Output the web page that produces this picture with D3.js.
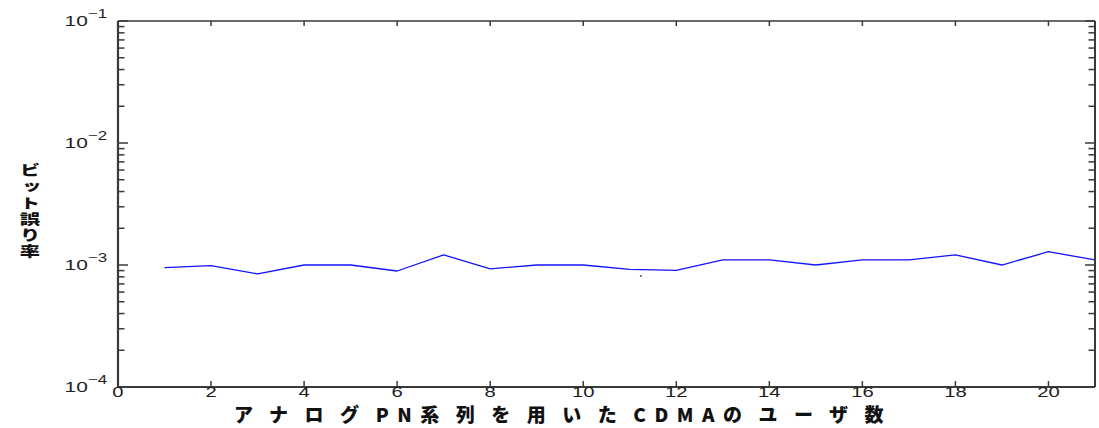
<!DOCTYPE html>
<html>
<head>
<meta charset="utf-8">
<script src="https://cdn.jsdelivr.net/npm/d3@7"></script>
<style>
  html, body { margin: 0; padding: 0; background: #fff; }
  svg { display: block; }
</style>
</head>
<body>
<svg id="chart" width="1099" height="428"></svg>
<script>
// Number of CDMA users using analogue PN sequences
const users = [1, 2, 3, 4, 5, 6, 7, 8, 9, 10, 11, 12, 13, 14, 15, 16, 17, 18, 19, 20, 21];
// Bit error rate for each user count
const bitErrorRate = [
  0.95e-3, 0.99e-3, 0.845e-3, 1.0e-3, 1.0e-3, 0.893e-3, 1.21e-3,
  0.93e-3, 1.0e-3, 1.0e-3, 0.92e-3, 0.905e-3, 1.1e-3, 1.1e-3,
  1.0e-3, 1.1e-3, 1.1e-3, 1.21e-3, 1.0e-3, 1.285e-3, 1.1e-3
];
// A single stray sample point
const strayX = [11.24];
const strayY = [0.818e-3];

const xTicks = [0, 2, 4, 6, 8, 10, 12, 14, 16, 18, 20];
const yDecades = [1e-4, 1e-3, 1e-2, 1e-1];
const yExponents = ["\u22124", "\u22123", "\u22122", "\u22121"];

// X axis title, split into CJK and Latin runs (they are spaced differently)
const xLabelRuns = ["アナログ", "PN", "系列を用いた", "CDMA", "のユーザ数"];
const yLabel = "ビット誤り率";

const svg = d3.select("#chart");
const plot = { left: 118, right: 1095, top: 21, bottom: 387 };

const x = d3.scaleLinear().domain([0, 21]).range([plot.left, plot.right]);
const y = d3.scaleLog().domain([1e-4, 1e-1]).range([plot.bottom, plot.top]);

const axisColor = "#3a3a3a";
const textColor = "#1e1e1e";
const hScale = 1.35;

// Data line
const line = d3.line().x((d, i) => x(users[i])).y(d => y(d));
svg.append("path")
  .datum(bitErrorRate)
  .attr("d", line)
  .attr("fill", "none")
  .attr("stroke", "#1414ff")
  .attr("stroke-width", 1.3)
  .attr("stroke-linejoin", "round");

// Stray point
svg.selectAll("rect.stray")
  .data(strayX)
  .enter().append("rect")
  .attr("class", "stray")
  .attr("x", (d) => x(d) - 1)
  .attr("y", (d, i) => y(strayY[i]) - 0.5)
  .attr("width", 2)
  .attr("height", 1.5)
  .attr("fill", "#555");

// Minor and major log ticks on left and right edges
const allLogTicks = y.ticks();
const g = svg.append("g");
allLogTicks.forEach(t => {
  const isMajor = yDecades.some(d => Math.abs(d - t) / d < 1e-9);
  const len = isMajor ? 10 : 6.5;
  const yy = y(t);
  g.append("line").attr("x1", plot.left).attr("x2", plot.left + len)
    .attr("y1", yy).attr("y2", yy)
    .attr("stroke", axisColor).attr("stroke-width", 1.5);
  g.append("line").attr("x1", plot.right).attr("x2", plot.right - len)
    .attr("y1", yy).attr("y2", yy)
    .attr("stroke", axisColor).attr("stroke-width", 1.5);
});

// X ticks on bottom and top edges
xTicks.forEach(t => {
  const xx = x(t);
  g.append("line").attr("x1", xx).attr("x2", xx)
    .attr("y1", plot.bottom).attr("y2", plot.bottom - 6)
    .attr("stroke", axisColor).attr("stroke-width", 1.5);
  g.append("line").attr("x1", xx).attr("x2", xx)
    .attr("y1", plot.top).attr("y2", plot.top + 5)
    .attr("stroke", axisColor).attr("stroke-width", 1.5);
});

// Box around the plot
svg.append("line").attr("x1", plot.left).attr("x2", plot.left)
  .attr("y1", plot.top).attr("y2", plot.bottom)
  .attr("stroke", axisColor).attr("stroke-width", 2.2);
svg.append("line").attr("x1", plot.left).attr("x2", plot.right)
  .attr("y1", plot.bottom).attr("y2", plot.bottom)
  .attr("stroke", axisColor).attr("stroke-width", 2.2);
svg.append("line").attr("x1", plot.left).attr("x2", plot.right)
  .attr("y1", plot.top).attr("y2", plot.top)
  .attr("stroke", axisColor).attr("stroke-width", 1.6);
svg.append("line").attr("x1", plot.right).attr("x2", plot.right)
  .attr("y1", plot.top).attr("y2", plot.bottom)
  .attr("stroke", axisColor).attr("stroke-width", 2);

// X tick labels
svg.selectAll("text.xtick")
  .data(xTicks)
  .enter().append("text")
  .attr("class", "xtick")
  .attr("transform", d => `translate(${x(d)},${plot.bottom + 10}) scale(${hScale},1)`)
  .attr("text-anchor", "middle")
  .attr("font-family", "Liberation Sans, Arial, sans-serif")
  .attr("font-size", 15)
  .attr("fill", textColor)
  .text(d => d);

// Y tick labels: 10 with superscript exponent
const ylab = svg.selectAll("text.ytick")
  .data(yDecades)
  .enter().append("text")
  .attr("class", "ytick")
  .attr("transform", d => `translate(107,${y(d) + 5}) scale(${hScale},1)`)
  .attr("text-anchor", "end")
  .attr("font-family", "Liberation Sans, Arial, sans-serif")
  .attr("fill", textColor);
ylab.append("tspan").attr("font-size", 15.5).text("10");
ylab.append("tspan").attr("font-size", 12.5).attr("dy", -8)
  .text((d, i) => yExponents[i]);

// Y axis title, written vertically top to bottom
svg.append("text")
  .attr("transform", "translate(30,163) scale(1.45,1)")
  .attr("x", 0)
  .attr("y", 0)
  .style("writing-mode", "vertical-rl")
  .style("text-orientation", "upright")
  .attr("letter-spacing", 2.2)
  .attr("font-family", "Noto Sans CJK JP, sans-serif")
  .attr("font-weight", 900)
  .attr("font-size", 14)
  .attr("fill", "#111")
  .text(yLabel);

// X axis title
const xt = svg.append("text")
  .attr("x", 234)
  .attr("y", 422)
  .attr("font-family", "Noto Sans CJK JP, sans-serif")
  .attr("font-weight", 900)
  .attr("font-size", 19)
  .attr("fill", "#111");
xt.selectAll("tspan")
  .data(xLabelRuns)
  .enter().append("tspan")
  .attr("letter-spacing", d => /^[A-Z]+$/.test(d) ? 8.5 : 16.5)
  .text(d => d);
</script>
</body>
</html>
